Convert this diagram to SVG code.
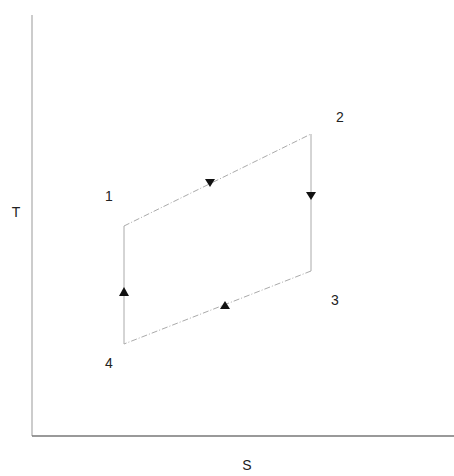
<svg xmlns="http://www.w3.org/2000/svg" width="454" height="476" viewBox="0 0 454 476">
<style>
.lbl{font-family:"Liberation Sans",Arial,sans-serif;font-size:14px;fill:#222;text-anchor:middle}
.axis{stroke:#999;stroke-width:1;fill:none}
.edge{stroke:#aaa;stroke-width:1;fill:none}
.dash{stroke-dasharray:6 2 1 2}
.head{fill:#111}
</style>
<rect width="454" height="476" fill="#fff"/>
<g id="axes">
<line class="axis" x1="32" y1="15" x2="32" y2="436"/>
<line x1="32" y1="436" x2="454" y2="436" stroke="#777" stroke-width="1.5"/>
<text class="lbl" x="16" y="217">T</text>
<text class="lbl" x="247" y="470">S</text>
</g>
<g id="connectors">
<line class="edge dash" x1="124" y1="226" x2="311" y2="134"/>
<line class="edge" x1="311" y1="134" x2="311" y2="271"/>
<line class="edge dash" x1="311" y1="271" x2="124" y2="344"/>
<line class="edge" x1="124" y1="344" x2="124" y2="226"/>
<polygon class="head" points="205,179 215,179 210,187"/>
<polygon class="head" points="306,192 316,192 311,200"/>
<polygon class="head" points="119,296 129,296 124,287"/>
<polygon class="head" points="220,309 230,309 225,301"/>
</g>
<g id="node-1"><text class="lbl" x="109" y="201">1</text></g>
<g id="node-2"><text class="lbl" x="340" y="122">2</text></g>
<g id="node-3"><text class="lbl" x="335" y="305">3</text></g>
<g id="node-4"><text class="lbl" x="109" y="368">4</text></g>
</svg>
